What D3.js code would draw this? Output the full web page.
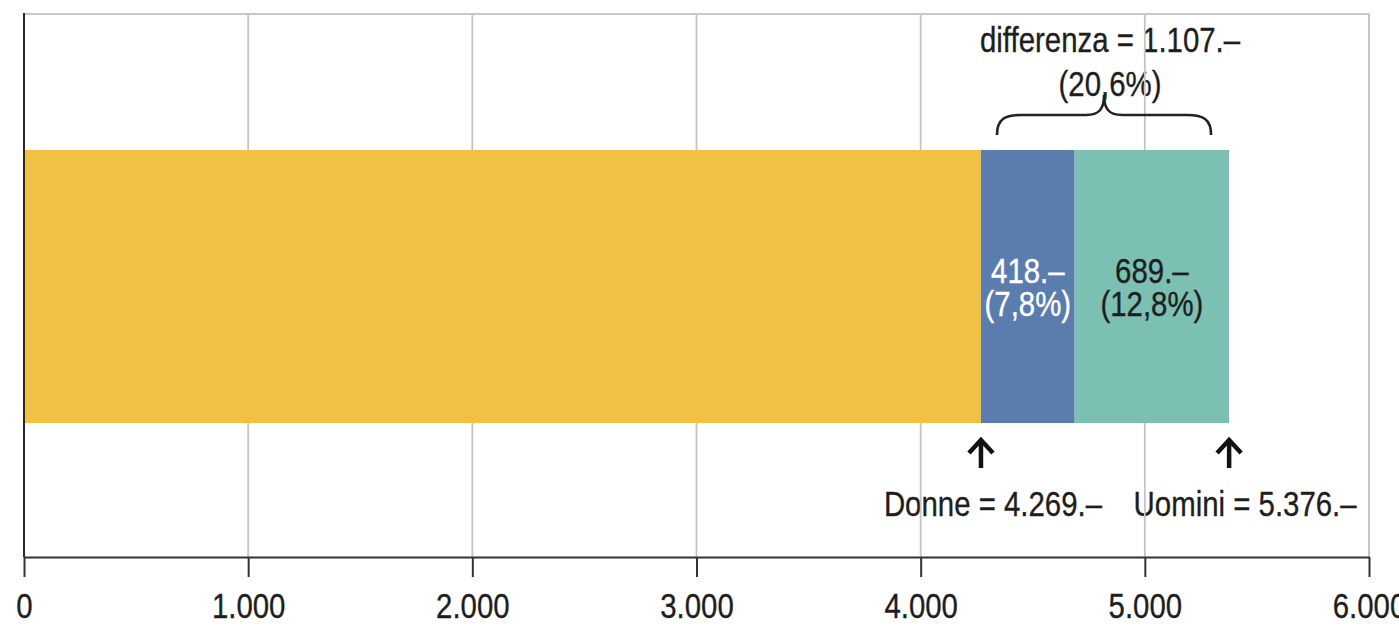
<!DOCTYPE html>
<html>
<head>
<meta charset="utf-8">
<script src="https://cdn.jsdelivr.net/npm/d3@7"></script>
<style>
  html, body { margin: 0; padding: 0; background: #fff; }
  svg { display: block; }
  text { font-family: "Liberation Sans", Arial, sans-serif; fill: #1e1e1e; }
</style>
</head>
<body>
<svg id="chart" width="1399" height="626"></svg>
<script>
// Average salaries: women, gap split into two parts, men
const segmentNames = ["Donne", "Differenza spiegata", "Differenza non spiegata"];
const segmentValues = [4269, 418, 689];
const segmentColors = ["#F0C143", "#5B7DAE", "#7CBFB3"];
const segmentLabels = [null, ["418.–", "(7,8%)"], ["689.–", "(12,8%)"]];
const segmentLabelColors = [null, "#ffffff", "#1e1e1e"];

const totals = [{ name: "Donne", value: 4269, text: "Donne = 4.269.–" },
                { name: "Uomini", value: 5376, text: "Uomini = 5.376.–" }];
const gapLabel = ["differenza = 1.107.–", "(20,6%)"];

const tickValues = [0, 1000, 2000, 3000, 4000, 5000, 6000];
const tickLabels = ["0", "1.000", "2.000", "3.000", "4.000", "5.000", "6.000"];

const svg = d3.select("#chart");
const plotLeft = 24, plotRight = 1369, plotTop = 14, axisY = 557;
const barTop = 150, barBottom = 423;
const fontSize = 35, condense = 0.84;

const x = d3.scaleLinear().domain([0, 6000]).range([plotLeft, plotRight]);

// condensed text: regular face squeezed horizontally around its anchor point;
// several lines go into one text element as tspans
function label(parent, px, py, lines, color, leading) {
  const c = color || "#1e1e1e";
  const t = parent.append("text")
    .attr("transform", `translate(${px},${py}) scale(${condense},1)`)
    .attr("text-anchor", "middle")
    .attr("font-size", fontSize)
    .style("fill", c)
    .style("stroke", c).style("stroke-width", 0.35);
  [].concat(lines).forEach((s, i) => {
    t.append("tspan").attr("x", 0).attr("dy", i === 0 ? 0 : leading).text(s);
  });
  return t;
}

// stacked segment extents
let acc = 0;
const segments = segmentValues.map((v, i) => {
  const s = { name: segmentNames[i], x0: acc, x1: acc + v, color: segmentColors[i],
              label: segmentLabels[i], labelColor: segmentLabelColors[i] };
  acc += v;
  return s;
});

// frame: top border
svg.append("line").attr("x1", plotLeft).attr("x2", plotRight).attr("y1", plotTop).attr("y2", plotTop)
  .attr("stroke", "#c8c8c8").attr("stroke-width", 2);

// gap annotation text (drawn under gridlines)
const gapStart = segments[1].x0, gapEnd = segments[2].x1;
const braceX0 = x(gapStart) + 16, braceX1 = x(gapEnd) - 18;
const braceMid = (braceX0 + braceX1) / 2;
label(svg, braceMid + 6, 52, gapLabel, null, 44);

// total labels below bar
totals.forEach((d, i) => label(svg, x(d.value) + (i === 0 ? 12 : 16), 516, d.text));

// gridlines
svg.selectAll("line.grid").data(tickValues.slice(1)).join("line")
  .attr("class", "grid")
  .attr("x1", d => x(d)).attr("x2", d => x(d))
  .attr("y1", plotTop).attr("y2", axisY)
  .attr("stroke", "#c4c4c4").attr("stroke-width", 1.8);

// bars
svg.selectAll("rect.seg").data(segments).join("rect")
  .attr("class", "seg")
  .attr("x", d => x(d.x0))
  .attr("width", d => x(d.x1) - x(d.x0))
  .attr("y", barTop).attr("height", barBottom - barTop)
  .attr("fill", d => d.color);

// segment labels
segments.filter(d => d.label).forEach(d => {
  const cx = (x(d.x0) + x(d.x1)) / 2;
  label(svg, cx, 283, d.label, d.labelColor, 33);
});

// curly brace over the gap
const by = 135, bh = 115, bp = 95;
const brace = d3.path();
brace.moveTo(braceX0, by);
brace.bezierCurveTo(braceX0, bh + 4, braceX0 + 8, bh, braceX0 + 24, bh);
brace.lineTo(braceMid - 18, bh);
brace.bezierCurveTo(braceMid - 5, bh, braceMid, bh - 6, braceMid, bp);
brace.bezierCurveTo(braceMid, bh - 6, braceMid + 5, bh, braceMid + 18, bh);
brace.lineTo(braceX1 - 24, bh);
brace.bezierCurveTo(braceX1 - 8, bh, braceX1, bh + 4, braceX1, by);
svg.append("path").attr("d", brace.toString()).attr("fill", "none")
  .attr("stroke", "#222").attr("stroke-width", 2.6);

// arrows pointing at the totals
totals.forEach(d => {
  const ax = x(d.value);
  svg.append("line").attr("x1", ax).attr("x2", ax).attr("y1", 441).attr("y2", 468)
    .attr("stroke", "#111").attr("stroke-width", 4.5);
  svg.append("path")
    .attr("d", `M${ax - 12},${453} L${ax},${440} L${ax + 12},${453}`)
    .attr("fill", "none").attr("stroke", "#111").attr("stroke-width", 4.5)
    .attr("stroke-linejoin", "miter");
});

// right border
svg.append("line").attr("x1", plotRight).attr("x2", plotRight).attr("y1", plotTop).attr("y2", axisY)
  .attr("stroke", "#c4c4c4").attr("stroke-width", 1.8);

// left axis line
svg.append("line").attr("x1", plotLeft).attr("x2", plotLeft).attr("y1", plotTop - 1).attr("y2", axisY)
  .attr("stroke", "#2a2a2a").attr("stroke-width", 2);

// x axis
const axis = d3.axisBottom(x).tickValues(tickValues)
  .tickFormat((d, i) => tickLabels[i]).tickSize(20).tickSizeOuter(0);
const gx = svg.append("g").attr("transform", `translate(0,${axisY})`).call(axis);
gx.select(".domain").attr("stroke", "#333").attr("stroke-width", 2);
gx.selectAll(".tick line").attr("stroke", "#333").attr("stroke-width", 2);
gx.selectAll(".tick text")
  .attr("y", null).attr("dy", null)
  .attr("transform", `translate(0,61) scale(${condense},1)`)
  .attr("font-size", fontSize).attr("font-family", null)
  .style("fill", "#1e1e1e").style("stroke", "#1e1e1e").style("stroke-width", 0.35);
</script>
</body>
</html>
